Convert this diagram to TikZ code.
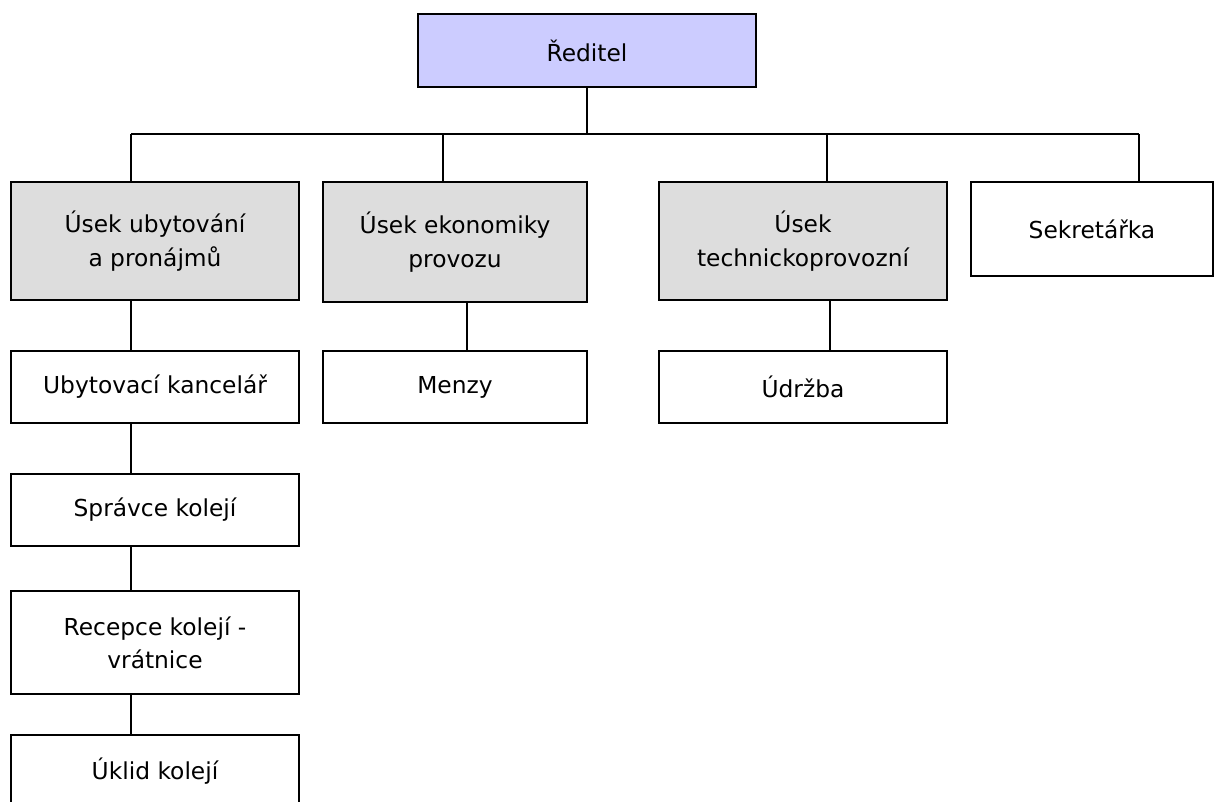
\documentclass[tikz,border=0pt]{standalone}
\usepackage{fontspec}
\setmainfont{DejaVu Sans}
\definecolor{bosscol}{HTML}{CCCCFF}
\definecolor{unitcol}{HTML}{DDDDDD}
\tikzset{
  box/.style={draw, line width=1.2pt, align=center, inner sep=0pt,
    font=\fontsize{17.5}{25}\selectfont},
  link/.style={line width=1pt}
}
\begin{document}
\begin{tikzpicture}[x=0.75pt, y=-0.75pt]
  \useasboundingbox (0,0) rectangle (1225,802);
  \draw
    (587,50.5) node[box, fill=bosscol, minimum width=253.5pt, minimum height=54.75pt] (red){Ředitel}
    (155,241) node[box, fill=unitcol, minimum width=216pt, minimum height=88.5pt] (usek1){Úsek ubytování\\a pronájmů}
    (455,242) node[box, fill=unitcol, minimum width=198pt, minimum height=90pt] (usek2){Úsek ekonomiky\\provozu}
    (803,241) node[box, fill=unitcol, minimum width=216pt, minimum height=88.5pt] (usek3){Úsek\\technickoprovozní}
    (1092,229) node[box, minimum width=181.5pt, minimum height=70.5pt] (sekr){Sekretářka}
    (155,387) node[box, minimum width=216pt, minimum height=54pt] (kanc){Ubytovací kancelář}
    (455,387) node[box, minimum width=198pt, minimum height=54pt] (menzy){Menzy}
    (803,387) node[box, minimum width=216pt, minimum height=54pt] (udrzba){Údržba}
    (155,510) node[box, minimum width=216pt, minimum height=54pt] (spravce){Správce kolejí}
    (155,642.5) node[box, minimum width=216pt, minimum height=77.25pt] (recepce){Recepce kolejí -\\vrátnice}
    (155,771) node[box, minimum width=216pt, minimum height=54pt] (uklid){Úklid kolejí};
  % bus and drop points
  \path
    (587,134) coordinate (b0)
    (131,134) coordinate (b1)
    (443,134) coordinate (b2)
    (827,134) coordinate (b3)
    (1139,134) coordinate (b4)
    (467,300) coordinate (c2)
    (830,300) coordinate (c3);
  \begin{scope}[link]
    \draw (red) to (b0);
    \draw (b1) to (b4);
    \draw (b1) to (b1 |- usek1.north);
    \draw (b2) to (b2 |- usek2.north);
    \draw (b3) to (b3 |- usek3.north);
    \draw (b4) to (b4 |- sekr.north);
    \draw (usek1.south -| b1) to (kanc.north -| b1);
    \draw (c2 |- usek2.south) to (c2 |- menzy.north);
    \draw (c3 |- usek3.south) to (c3 |- udrzba.north);
    \draw (kanc.south -| b1) to (spravce.north -| b1);
    \draw (spravce.south -| b1) to (recepce.north -| b1);
    \draw (recepce.south -| b1) to (uklid.north -| b1);
  \end{scope}
\end{tikzpicture}
\end{document}
